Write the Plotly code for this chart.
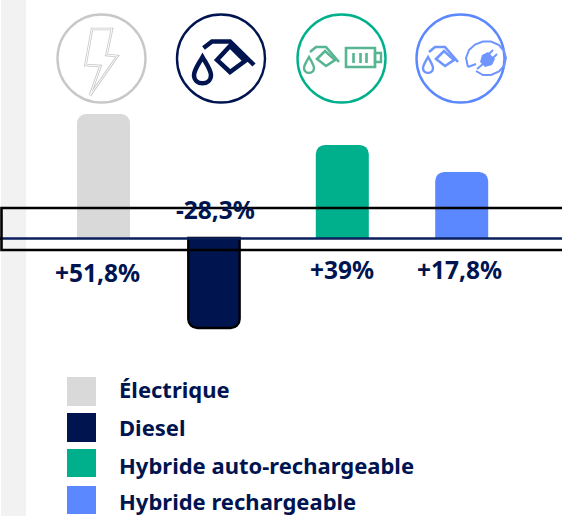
import plotly.graph_objects as go

W, H = 562, 516
categories = ["Électrique", "Diesel", "Hybride auto-rechargeable", "Hybride rechargeable"]
# Bar lengths (the drawn bars are not proportional to their labels)
bar_values = [51.8, -37.6, 38.9, 27.6]
value_labels = ["+51,8%", "-28,3%", "+39%", "+17,8%"]
colors = ["#d9d9d9", "#001450", "#00b08c", "#5c88ff"]
NAVY = "#001450"

def X(p): return p / W
def Y(p): return 1 - p / H

shapes = []
def add(path, line=None, fill=None, width=1, layer="above"):
    shapes.append(dict(type="path", xref="paper", yref="paper", path=path, layer=layer,
                       line=dict(color=line or "rgba(0,0,0,0)", width=width if line else 0),
                       fillcolor=fill or "rgba(0,0,0,0)"))
def poly(pts, close=False):
    s = "M " + " L ".join(f"{X(x):.5f} {Y(y):.5f}" for x, y in pts)
    return s + (" Z" if close else "")
def circle(cx, cy, r, line=None, fill=None, width=1):
    shapes.append(dict(type="circle", xref="paper", yref="paper", x0=X(cx-r), x1=X(cx+r),
                       y0=Y(cy+r), y1=Y(cy-r), layer="above",
                       line=dict(color=line or "rgba(0,0,0,0)", width=width if line else 0),
                       fillcolor=fill or "rgba(0,0,0,0)"))
def rect(x0, y0, x1, y1, line=None, fill=None, width=1, layer="above"):
    shapes.append(dict(type="rect", xref="paper", yref="paper", x0=X(x0), x1=X(x1),
                       y0=Y(y1), y1=Y(y0), layer=layer,
                       line=dict(color=line or "rgba(0,0,0,0)", width=width if line else 0),
                       fillcolor=fill or "rgba(0,0,0,0)"))

def drop(cx, cy, tip, r, color, width, fill=None):
    # teardrop outline: tip above a round belly
    k = r * 0.55
    s = (f"M {X(cx):.5f} {Y(tip):.5f} "
         f"C {X(cx-k):.5f} {Y(tip+(cy-tip)*0.45):.5f} {X(cx-r):.5f} {Y(cy-k):.5f} {X(cx-r):.5f} {Y(cy):.5f} "
         f"C {X(cx-r):.5f} {Y(cy+r*1.3):.5f} {X(cx+r):.5f} {Y(cy+r*1.3):.5f} {X(cx+r):.5f} {Y(cy):.5f} "
         f"C {X(cx+r):.5f} {Y(cy-k):.5f} {X(cx+k):.5f} {Y(tip+(cy-tip)*0.45):.5f} {X(cx):.5f} {Y(tip):.5f} Z")
    add(s, line=color, width=width, fill=fill)

# Grey strip on the left
rect(1, 0, 26, 516, fill="#f2f2f2", layer="below")

# Icon rings
for cx, c in zip([101.5, 221, 341.5, 460.5], ["#c8c8c8", NAVY, "#00b08c", "#5c88ff"]):
    circle(cx, 58.5, 44, line=c, width=2.4)

# Lightning bolt
bolt = [(92, 29), (112, 29), (106.5, 55), (117.5, 56), (90, 95.5), (100.5, 66), (85.5, 65)]
add(poly(bolt, True), line="#c8c8c8", width=2.6)
add(poly(bolt, True), line="#ffffff", width=1)

# Diesel nozzle
add(poly([(203.5, 48), (212, 41.5), (230, 41.5), (254, 65)]), line=NAVY, width=4.5)
add(poly([(217, 60), (230, 46), (245, 61), (230, 72)], True), line=NAVY, width=4.5)
drop(202.5, 75, 57, 8.5, NAVY, 4.5)

def small_nozzle(dx, color):
    add(poly([(310+dx, 52), (316+dx, 47), (326+dx, 47), (339+dx, 62)]), line=color, width=2.6)
    add(poly([(317+dx, 59), (325+dx, 51), (335+dx, 60), (326+dx, 66)], True), line=color, width=2.6)
    drop(309+dx, 68, 57, 5, color, 2.4)

GREEN_ICON = "#57b592"
small_nozzle(0, GREEN_ICON)
rect(346, 48, 375, 67, line=GREEN_ICON, width=2.6)
rect(375, 53, 381, 62, line=GREEN_ICON, width=2.4)
for bx in (353, 360, 366):
    add(poly([(bx+0.5, 53), (bx+0.5, 63)]), line=GREEN_ICON, width=2.6)

BLUE_ICON = "#6f95ff"
small_nozzle(119, BLUE_ICON)
arc = [(468, 67), (466, 58), (469, 50), (475, 44.5), (483, 41.5), (491, 41.5), (499, 45), (504, 51), (506, 58),
       (504, 66), (499, 71.5), (491, 75), (483, 75), (476, 71)]
add(poly(arc), line=BLUE_ICON, width=2)
add(poly([(468, 67), (476, 64)]), line=BLUE_ICON, width=2)
add(poly([(480, 62), (482, 55), (488, 52), (495, 59), (492, 65), (485, 67)], True), fill=BLUE_ICON)
add(poly([(477, 69), (483, 64)]), line=BLUE_ICON, width=2)
add(poly([(489, 54), (493, 50)]), line=BLUE_ICON, width=2)
add(poly([(493, 58), (497, 54)]), line=BLUE_ICON, width=2)

# Axis line and outlined black box
add(poly([(0, 238.5), (562, 238.5)]), line="#0a1f5c", width=2.4)
rect(1.5, 208, 570, 250, line="#000000", width=2.6)

# Legend swatches
for (y0, y1), c in zip([(377, 406), (413, 442), (449, 477), (486, 514)], colors):
    rect(67, y0, 96, y1, fill=c)

fig = go.Figure(go.Bar(
    x=categories, y=bar_values,
    width=[0.444, 0.43, 0.444, 0.444],
    offset=[-0.222, -0.29, -0.222, -0.222],
    marker=dict(color=colors, line=dict(color=["rgba(0,0,0,0)", "#000000", "rgba(0,0,0,0)", "rgba(0,0,0,0)"], width=2.4),
                cornerradius=9),
    showlegend=False, hoverinfo="skip",
))

annotations = []
for lab, px, py in zip(value_labels, [97, 215, 342, 459], [272, 209, 269, 269]):
    annotations.append(dict(xref="paper", yref="paper", x=X(px), y=Y(py), text=lab, showarrow=False,
                            xanchor="center", yanchor="middle",
                            font=dict(family="Noto Sans", size=24.5, color=NAVY, weight=700)))
for cat, py in zip(categories, [389, 426.5, 465, 501]):
    annotations.append(dict(xref="paper", yref="paper", x=X(116.5), y=Y(py), text=cat, showarrow=False,
                            xanchor="left", yanchor="middle",
                            font=dict(family="Noto Sans", size=22, color=NAVY, weight=700)))

scale = 124 / 51.8
fig.update_layout(
    width=W, height=H, autosize=False,
    margin=dict(l=0, r=0, t=0, b=0),
    paper_bgcolor="white", plot_bgcolor="rgba(0,0,0,0)",
    xaxis=dict(visible=False, type="category", range=[-0.867, 3.840]),
    yaxis=dict(visible=False, range=[-(H - 238) / scale, 238 / scale]),
    shapes=shapes, annotations=annotations,
)
fig.write_html("out.html", config=dict(displayModeBar=False),
               post_script="document.body.style.margin='0';document.documentElement.style.overflow='hidden';")
